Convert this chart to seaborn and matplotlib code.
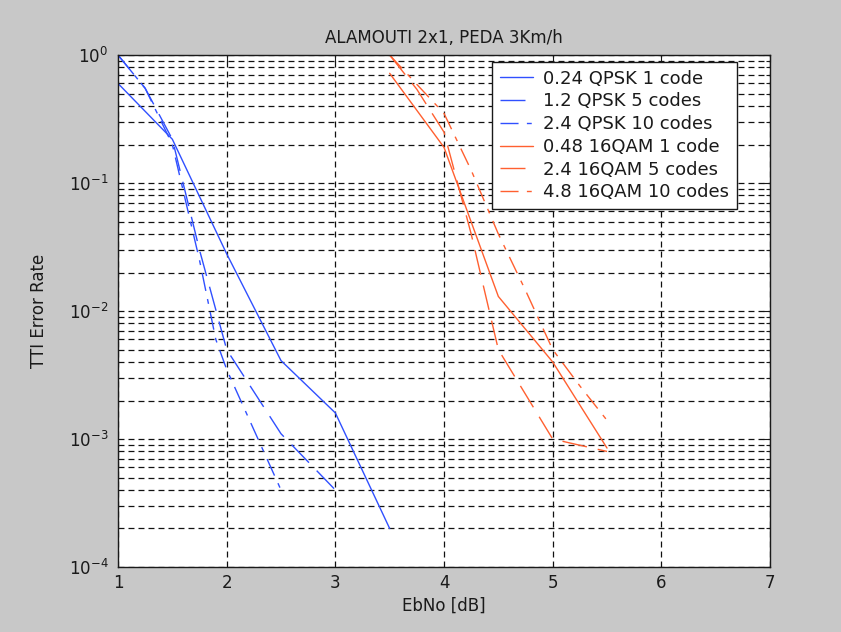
import numpy as np
import pandas as pd
import seaborn as sns
import matplotlib.pyplot as plt
from matplotlib.ticker import LogLocator, NullFormatter, FixedLocator

# (EbNo in dB, TTI error rate)
qpsk_1_x = [1, 1.5, 2, 2.5, 3, 3.5]
qpsk_1_y = [0.6, 0.22, 0.028, 0.0041, 0.0016, 0.0002]
qpsk_5_x = [1, 1.25, 1.5, 1.75, 2.0, 2.5, 3.0]
qpsk_5_y = [1.0, 0.55, 0.22, 0.03, 0.005, 0.0011, 0.0004]
qpsk_10_x = [1, 1.25, 1.5, 1.75, 1.9, 2.0, 2.5]
qpsk_10_y = [1.0, 0.55, 0.2, 0.025, 0.006, 0.0035, 0.0004]
qam_1_x = [3.5, 4.0, 4.5, 5.0, 5.5]
qam_1_y = [0.72, 0.19, 0.013, 0.004, 0.00085]
qam_5_x = [3.5, 3.75, 4.0, 4.25, 4.5, 5.0, 5.5]
qam_5_y = [1.0, 0.54, 0.25, 0.04, 0.005, 0.001, 0.0008]
qam_10_x = [3.5, 3.75, 4.0, 4.25, 4.5, 4.75, 5.0, 5.25, 5.5]
qam_10_y = [1.0, 0.59, 0.35, 0.126, 0.04, 0.0145, 0.005, 0.0026, 0.0014]

labels = ["0.24 QPSK 1 code", "1.2 QPSK 5 codes", "2.4 QPSK 10 codes",
          "0.48 16QAM 1 code", "2.4 16QAM 5 codes", "4.8 16QAM 10 codes"]
x_ticks = [1, 2, 3, 4, 5, 6, 7]

#Style
sns.set_theme(style="white")
plt.rcParams['font.family'] = ['DejaVu Sans']
plt.rcParams['lines.scale_dashes'] = False
plt.rcParams['text.color'] = 'k'
plt.rcParams['axes.labelcolor'] = 'k'
bg = '#c8c8c8'
blue = '#3050ff'
orange = '#ff6030'
dashed = (0, (18, 8))
dashdot = (0, (13, 6, 3.5, 6))

series = [
    (qpsk_1_x, qpsk_1_y, blue, '-'),
    (qpsk_5_x, qpsk_5_y, blue, dashed),
    (qpsk_10_x, qpsk_10_y, blue, dashdot),
    (qam_1_x, qam_1_y, orange, '-'),
    (qam_5_x, qam_5_y, orange, dashed),
    (qam_10_x, qam_10_y, orange, dashdot),
]

fig = plt.figure(figsize=(8.41, 6.32), dpi=100, facecolor=bg)
ax = fig.add_axes([0.1403, 0.1028, 0.7753, 0.8101])
ax.set_facecolor('white')

for (xs, ys, c, ls), lab in zip(series, labels):
    sns.lineplot(x=xs, y=ys, ax=ax, color=c, linewidth=1.0, linestyle=ls,
                 label=lab, estimator=None, sort=False)

ax.set_yscale('log')
ax.set_xlim(1, 7)
ax.set_ylim(1e-4, 1)
ax.xaxis.set_major_locator(FixedLocator(x_ticks))
ax.set_xticklabels([str(t) for t in x_ticks])
ax.yaxis.set_major_locator(LogLocator(base=10, numticks=10))
ax.yaxis.set_minor_locator(LogLocator(base=10, subs=np.arange(2, 10), numticks=20))
ax.yaxis.set_minor_formatter(NullFormatter())

#Grid like matlab
grid_kw = dict(color='#111111', linewidth=0.9, linestyle=(0, (4.3, 2.9)))
ax.grid(True, which='major', axis='both', **grid_kw)
ax.grid(True, which='minor', axis='y', **grid_kw)
ax.set_axisbelow(True)

ax.tick_params(which='both', direction='in', top=True, right=True, colors='k',
               labelsize=12, pad=7)
ax.tick_params(which='major', length=5, width=0.8)
ax.tick_params(which='minor', length=3, width=0.8)
ax.tick_params(axis='x', pad=5)
for s in ax.spines.values():
    s.set_color('k')
    s.set_linewidth(1.0)

ax.set_title("ALAMOUTI 2x1, PEDA 3Km/h", fontsize=12, pad=9, color='k')
ax.set_xlabel("EbNo [dB]", fontsize=12)
ax.set_ylabel("TTI Error Rate", fontsize=12)
ax.xaxis.set_label_coords(0.5, -0.058)
ax.yaxis.set_label_coords(-0.107, 0.5)

leg = ax.legend(loc='upper right', bbox_to_anchor=(0.949, 0.986), frameon=True,
                fancybox=False, edgecolor='k', framealpha=1, fontsize=13,
                handlelength=1.85, handletextpad=0.55, labelspacing=0.26,
                borderpad=0.42, borderaxespad=0)
leg.get_frame().set_linewidth(1.0)

fig.savefig("out.png", dpi=100, facecolor=bg)
